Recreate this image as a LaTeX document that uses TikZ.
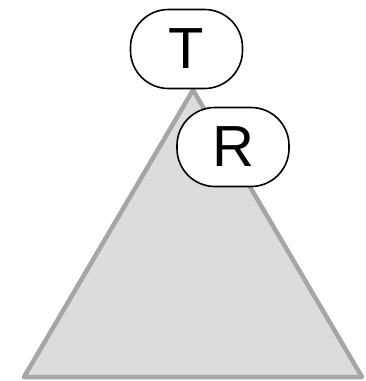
\documentclass[tikz,border=0pt]{standalone}
\usepackage{fontspec}
\setmainfont{Liberation Sans}
\definecolor{treefill}{HTML}{DCDCDC}
\definecolor{treeline}{HTML}{A6A6A6}
\tikzset{
  key/.style={draw=black, line width=1.6pt, fill=white, rounded corners=38pt,
    minimum width=112pt, minimum height=79pt, inner sep=0pt,
    font=\fontsize{58}{58}\selectfont},
}

\begin{document}
\begin{tikzpicture}[x=1pt, y=-1pt]
    \useasboundingbox (0,0) rectangle (366,381);
    \coordinate (top) at (193,90); 
    \coordinate (bl) at (24,377); 
    \coordinate (br) at (362,377); 
    \draw[treeline, fill=treefill, line width=4.5pt, line join=round] (top) -- (bl) -- (br) -- cycle; 
    \node[key] (t) at (186.5,49) {T}; 
    \node[key] (r) at (233,147) {R}; 
  \end{tikzpicture}
\end{document}
